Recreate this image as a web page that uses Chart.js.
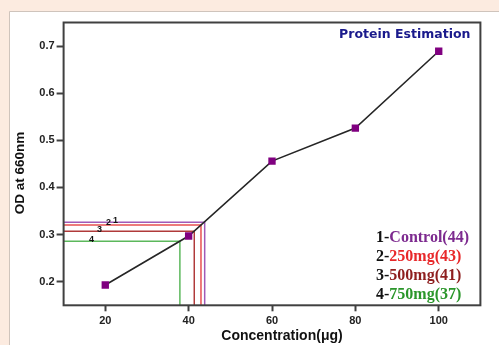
<!DOCTYPE html>
<html><head><meta charset="utf-8">
<script src="https://cdn.jsdelivr.net/npm/chart.js@4"></script>
<style>html,body{margin:0;padding:0;background:#fcebe0;overflow:hidden;} canvas{display:block;}</style>
</head><body>
<canvas id="c" width="499" height="345" style="width:499px;height:345px"></canvas>
<script>
// ---- data ----
const concentrations = [20, 40, 60, 80, 100];
const odValues = [0.193, 0.297, 0.456, 0.526, 0.689];
const xTickValues = [20, 40, 60, 80, 100];
const yTickValues = [0.2, 0.3, 0.4, 0.5, 0.6, 0.7];
const sampleNumbers = ['1', '2', '3', '4'];
const sampleNames = ['Control', '250mg', '500mg', '750mg'];
const sampleReported = [44, 43, 41, 37];
const sampleConc = [43.85, 42.96, 41.35, 37.9];
const sampleOD = [0.326, 0.3205, 0.307, 0.286];
const titleText = 'Protein Estimation';
const xTitle = 'Concentration(\u03bcg)';
const yTitle = 'OD at 660nm';

// ---- styles ----
const lineColors = ['#a05ab8', '#e85050', '#b03a3a', '#5cb85c'];
const textColors = ['#7d2a8f', '#e8282a', '#8e1f1f', '#2a962a'];
const xMin = 10, xMax = 110, yMin = 0.15, yMax = 0.75;

const guideSets = sampleConc.map((cx, i) => ({
  type: 'line',
  data: [{x: xMin, y: sampleOD[i]}, {x: cx, y: sampleOD[i]}, {x: cx, y: yMin}],
  borderColor: lineColors[i],
  borderWidth: 1.5,
  pointRadius: 0,
  tension: 0,
  order: 2
}));

const mainSet = {
  type: 'line',
  data: concentrations.map((c, i) => ({x: c, y: odValues[i]})),
  borderColor: '#262626',
  borderWidth: 1.6,
  pointStyle: 'rect',
  pointRadius: 5.2,
  pointBackgroundColor: '#800080',
  pointBorderColor: '#800080',
  pointBorderWidth: 0,
  tension: 0,
  order: 0
};

const decor = {
  id: 'decor',
  beforeDraw(chart) {
    const ctx = chart.ctx;
    ctx.save();
    ctx.fillStyle = '#fcebe0';
    ctx.fillRect(0, 0, 499, 345);
    ctx.fillStyle = '#ffffff';
    ctx.fillRect(10, 12, 489, 333);
    ctx.strokeStyle = '#cfc4bc';
    ctx.lineWidth = 1;
    ctx.beginPath();
    ctx.moveTo(9.5, 345); ctx.lineTo(9.5, 11.5); ctx.lineTo(499, 11.5);
    ctx.stroke();
    ctx.restore();
  },
  afterDatasetsDraw(chart) {
    const ctx = chart.ctx;
    const a = chart.chartArea;
    const xs = chart.scales.x, ys = chart.scales.y;
    ctx.save();
    // frame
    ctx.strokeStyle = '#404040';
    ctx.lineWidth = 2;
    ctx.strokeRect(a.left, a.top, a.right - a.left, a.bottom - a.top);
    // title
    ctx.fillStyle = '#1a1a8c';
    ctx.font = 'bold 12.5px "DejaVu Sans"';
    ctx.textAlign = 'right';
    ctx.textBaseline = 'middle';
    ctx.fillText(titleText, a.right - 10, a.top + 12.5);
    // axis titles
    ctx.fillStyle = '#111';
    ctx.font = 'bold 14px "Liberation Sans"';
    ctx.textAlign = 'center';
    ctx.fillText(xTitle, 282, 336);
    ctx.save();
    ctx.translate(20, 173);
    ctx.rotate(-Math.PI / 2);
    ctx.font = 'bold 13.5px "Liberation Sans"';
    ctx.fillText(yTitle, 0, 0);
    ctx.restore();
    // small number labels on guide lines
    ctx.font = 'bold 9px "Liberation Sans"';
    ctx.fillStyle = '#111';
    ctx.textAlign = 'center';
    ctx.textBaseline = 'alphabetic';
    const x0 = xs.getPixelForValue(xMin);
    const offs = [52, 45, 36, 28];
    sampleNumbers.forEach((n, i) => {
      ctx.fillText(n, x0 + offs[i], ys.getPixelForValue(sampleOD[i]) + 0.5);
    });
    // legend text
    ctx.font = 'bold 16px "Liberation Serif"';
    ctx.textAlign = 'left';
    ctx.textBaseline = 'middle';
    sampleNames.forEach((name, i) => {
      const y = 237.5 + i * 19;
      const pre = sampleNumbers[i] + '-';
      ctx.fillStyle = '#111';
      ctx.fillText(pre, 376, y);
      const w = ctx.measureText(pre).width;
      ctx.fillStyle = textColors[i];
      ctx.fillText(name + '(' + sampleReported[i] + ')', 376 + w, y);
    });
    ctx.restore();
  }
};

new Chart(document.getElementById('c'), {
  type: 'line',
  data: { datasets: [mainSet, ...guideSets] },
  options: {
    responsive: false,
    animation: false,
    devicePixelRatio: 1,
    layout: { padding: { left: 0, top: 22.5, right: 18.6, bottom: 0 } },
    plugins: { legend: { display: false }, tooltip: { enabled: false } },
    scales: {
      x: {
        type: 'linear', min: xMin, max: xMax,
        afterBuildTicks(s) { s.ticks = xTickValues.map(v => ({value: v})); },
        afterFit(s) { s.height = 39.7; },
        grid: { drawOnChartArea: false, tickLength: 6, tickColor: '#404040', tickWidth: 2 },
        border: { display: false },
        ticks: { color: '#222', font: { family: 'Liberation Sans', weight: 'bold', size: 11 }, padding: 3, maxRotation: 0 }
      },
      y: {
        type: 'linear', min: yMin, max: yMax,
        afterBuildTicks(s) { s.ticks = yTickValues.map(v => ({value: v})); },
        afterFit(s) { s.width = 63.6; },
        grid: { drawOnChartArea: false, tickLength: 7, tickColor: '#404040', tickWidth: 2 },
        border: { display: false },
        ticks: { color: '#222', font: { family: 'Liberation Sans', weight: 'bold', size: 11 }, padding: 2,
          callback: v => Number(v).toFixed(1) }
      }
    }
  },
  plugins: [decor]
});
</script>
</body></html>
